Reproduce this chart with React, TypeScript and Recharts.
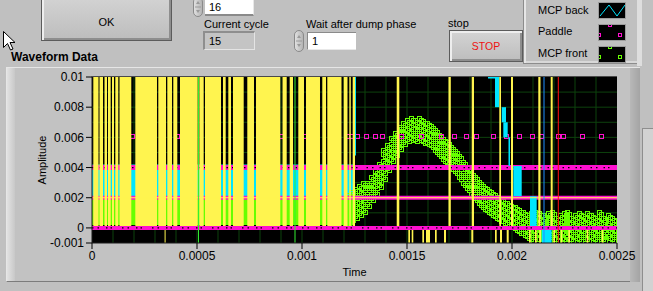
import React from 'react';
import { ComposedChart, XAxis, YAxis, CartesianGrid, ReferenceArea, ReferenceLine, Scatter } from 'recharts';

// ---------------- axes ----------------
const timeTicks = [0, 0.0005, 0.001, 0.0015, 0.002, 0.0025];
const ampTicks = [-0.001, 0, 0.002, 0.004, 0.006, 0.008, 0.01];
const gridTimes = [0.0001, 0.0002, 0.0003, 0.0004, 0.0005, 0.0006, 0.0007, 0.0008, 0.0009, 0.001, 0.0011, 0.0012, 0.0013, 0.0014, 0.0015, 0.0016, 0.0017, 0.0018, 0.0019, 0.002, 0.0021, 0.0022, 0.0023, 0.0024];
const gridAmps = [0, 0.001, 0.002, 0.003, 0.004, 0.005, 0.006, 0.007, 0.008, 0.009];

// ---------------- yellow trace (dense burst, full height) ----------------
const yellowDenseStart = [0.0000062, 0.0000357, 0.0000595, 0.0000762, 0.0000952, 0.000111, 0.000131, 0.0002062, 0.0003157, 0.0003586, 0.0003871, 0.000419, 0.000511, 0.0005381, 0.0006238, 0.0006491, 0.0006714, 0.0007395, 0.000781, 0.0009072, 0.0009414, 0.0009824, 0.0010191, 0.0010967, 0.0011205, 0.0011986, 0.0012253, 0.0012414];
const yellowDenseEnd = [0.000031, 0.0000524, 0.0000714, 0.000089, 0.0001048, 0.0001252, 0.0001871, 0.0003095, 0.0003524, 0.000381, 0.0004062, 0.0005033, 0.0005319, 0.0006143, 0.0006367, 0.0006619, 0.0007224, 0.0007714, 0.0008967, 0.0009272, 0.0009572, 0.0010095, 0.0010857, 0.0011143, 0.0011881, 0.0012167, 0.0012324, 0.0012524];
const yellowHigh = 0.01;
const yellowLow = 0.0001;
// isolated full-height yellow spikes
const yellowSpikeStart = [0.001451, 0.0016976, 0.0018081, 0.0019395, 0.0019952, 0.0021252, 0.0021843];
const yellowSpikeEnd = [0.0014633, 0.0017086, 0.001819, 0.0019476, 0.0020048, 0.0021357, 0.0021938];
// negative yellow spikes (0 .. -0.001)
const yellowNegStart = [0.0003457, 0.0015062, 0.0015224, 0.0015729, 0.0015905, 0.0016333, 0.0016762, 0.0018062, 0.001919, 0.0019429, 0.0019748, 0.002081, 0.0021095, 0.00213, 0.0021967, 0.0022319, 0.0022681, 0.0023557, 0.0024271];
const yellowNegEnd = [0.0003505, 0.0015143, 0.00153, 0.001581, 0.0016095, 0.0016414, 0.0016857, 0.0018157, 0.0019272, 0.0019524, 0.0019843, 0.002089, 0.0021176, 0.0021381, 0.0022048, 0.0022395, 0.0022762, 0.0023633, 0.0024348];
const yellowNegTop = -0.0001;
const yellowNegBottom = -0.001;
const yellowFlatLevel = 0.002;

// ---------------- MCP back (cyan) ----------------
const backDenseRange = [0, 0.00125, 0.002, 0.0042]; // t1, t2, v1, v2
const backX1 = [0.0018857, 0.001919, 0.001951, 0.0019586, 0.0019833, 0.0020062, 0.0020857, 0.0021414, 0.0012524];
const backX2 = [0.0019395, 0.0019395, 0.0019714, 0.0019795, 0.0019905, 0.0020462, 0.0021176, 0.002189, 0.0012571];
const backY1 = [0.0099, 0.008, 0.007, 0.006, 0.0041, 0.0021, 0, -0.001, 0.0048];
const backY2 = [0.01, 0.01, 0.008, 0.007, 0.006, 0.0041, 0.0021, 0, 0.01];

// ---------------- Paddle (magenta) ----------------
const paddleLevels = [0.002, 0.004];
const paddleBaseLevel = 0;
const paddleSquareLevel = 0.006;
const paddleSquareTime = [0.0001952, 0.0004095, 0.0009048, 0.0010143, 0.001219, 0.0012381, 0.0012681, 0.0013081, 0.001351, 0.0013871, 0.0014748, 0.00157, 0.0016652, 0.0017286, 0.0017871, 0.0018348, 0.0019143, 0.0019776, 0.0020381, 0.0021014, 0.0021443, 0.0022252, 0.0022476, 0.0023395, 0.00243];

// ---------------- MCP front (green) ----------------
const frontDenseRange = [0, 0.00125, 0.0002, 0.002];
const frontSpikeTime = [0.0005071, 0.0009667];
const frontTime = [0.001182, 0.001201, 0.00122, 0.001239, 0.001258, 0.001277, 0.001297, 0.001316, 0.001335, 0.001354, 0.001373, 0.001392, 0.001411, 0.00143, 0.001449, 0.001468, 0.001487, 0.001506, 0.001525, 0.001544, 0.001563, 0.001582, 0.001602, 0.001621, 0.00164, 0.001659, 0.001678, 0.001697, 0.001716, 0.001735, 0.001754, 0.001773, 0.001792, 0.001811, 0.00183, 0.001849, 0.001868, 0.001888, 0.001907, 0.001926, 0.001945, 0.001964, 0.001983, 0.002002, 0.002021, 0.00204, 0.002059, 0.002078, 0.002097, 0.002116, 0.002135, 0.002154, 0.002174, 0.002193, 0.002212, 0.002231, 0.00225, 0.002269, 0.002288, 0.002307, 0.002326, 0.002345, 0.002364, 0.002383, 0.002402, 0.002421, 0.00244, 0.00246, 0.002479, 0.002498];
const frontAmp = [
  [0.0003, 0.0007, 0.001, 0.0014, 0.0017], [0.0005, 0.0009, 0.0012, 0.0016, 0.0019], [0.0004, 0.0008, 0.0011, 0.0015, 0.0018, 0.0021], [0.0006, 0.001, 0.0013, 0.0017, 0.002, 0.0023],
  [0.0007, 0.0011, 0.0014, 0.0018, 0.0021, 0.0025], [0.0009, 0.0013, 0.0016, 0.002, 0.0024, 0.0027], [0.0011, 0.0015, 0.0019, 0.0022, 0.0026, 0.0029], [0.0015, 0.0019, 0.0022, 0.0026, 0.0029],
  [0.0019, 0.0022, 0.0026, 0.0029, 0.0033], [0.0023, 0.0027, 0.003, 0.0034, 0.0037], [0.0028, 0.0031, 0.0035, 0.0038, 0.0042], [0.0033, 0.0037, 0.004, 0.0044, 0.0048, 0.0051],
  [0.0039, 0.0043, 0.0046, 0.005, 0.0054], [0.0045, 0.0048, 0.0052, 0.0055, 0.0059], [0.0049, 0.0052, 0.0056, 0.0059, 0.0062], [0.0053, 0.0056, 0.0059, 0.0063, 0.0066],
  [0.0056, 0.0059, 0.0063, 0.0066, 0.0069], [0.0058, 0.0061, 0.0064, 0.0068, 0.0071], [0.0059, 0.0062, 0.0066, 0.0069, 0.0072], [0.0058, 0.0062, 0.0065, 0.0068, 0.0071],
  [0.0059, 0.0062, 0.0065, 0.0069, 0.0072], [0.0057, 0.006, 0.0064, 0.0067, 0.007], [0.0056, 0.0059, 0.0062, 0.0066, 0.0069], [0.0054, 0.0057, 0.0061, 0.0064, 0.0067],
  [0.0051, 0.0054, 0.0058, 0.0061, 0.0064], [0.0048, 0.0051, 0.0055, 0.0058, 0.0061], [0.0045, 0.0048, 0.0052, 0.0055, 0.0058], [0.0043, 0.0046, 0.0049, 0.0053, 0.0056],
  [0.004, 0.0043, 0.0047, 0.005, 0.0053], [0.0037, 0.004, 0.0044, 0.0047, 0.005], [0.0033, 0.0036, 0.004, 0.0043, 0.0047], [0.0029, 0.0033, 0.0036, 0.004, 0.0043],
  [0.0026, 0.0029, 0.0033, 0.0036, 0.0039], [0.0022, 0.0026, 0.0029, 0.0033, 0.0036], [0.0019, 0.0022, 0.0026, 0.0029, 0.0033], [0.0016, 0.0019, 0.0023, 0.0026, 0.003],
  [0.0013, 0.0017, 0.002, 0.0024, 0.0027], [0.0011, 0.0015, 0.0018, 0.0022, 0.0025], [0.0009, 0.0013, 0.0016, 0.002, 0.0023], [0.0007, 0.0011, 0.0014, 0.0018, 0.0021],
  [0.0005, 0.0009, 0.0012, 0.0016, 0.0019], [0.0004, 0.0007, 0.0011, 0.0014, 0.0017], [0.0002, 0.0006, 0.0009, 0.0013, 0.0016], [0.0001, 0.0004, 0.0008, 0.0011, 0.0014],
  [-0.0001, 0.0003, 0.0006, 0.001, 0.0013], [-0.0003, 0.0001, 0.0004, 0.0008, 0.0011], [-0.0004, 0, 0.0003, 0.0007, 0.001], [-0.0006, -0.0002, 0.0001, 0.0005, 0.0008],
  [-0.0008, -0.0004, -0.0001, 0.0003, 0.0006, 0.0009], [-0.0007, -0.0003, 0, 0.0004, 0.0007, 0.001], [-0.0008, -0.0005, -0.0001, 0.0002, 0.0006, 0.0009], [-0.0006, -0.0003, 0.0001, 0.0004, 0.0008],
  [-0.0008, -0.0004, -0.0001, 0.0003, 0.0006, 0.0009], [-0.0007, -0.0003, 0, 0.0004, 0.0007, 0.001], [-0.0008, -0.0005, -0.0001, 0.0002, 0.0006], [-0.0006, -0.0002, 0.0001, 0.0005, 0.0008],
  [-0.0008, -0.0004, -0.0001, 0.0003, 0.0006, 0.0009], [-0.0007, -0.0003, 0, 0.0004, 0.0007, 0.001], [-0.0008, -0.0005, -0.0001, 0.0002, 0.0006], [-0.0006, -0.0002, 0.0001, 0.0005, 0.0008],
  [-0.0008, -0.0004, -0.0001, 0.0003, 0.0006, 0.0009], [-0.0007, -0.0003, 0, 0.0004, 0.0007], [-0.0008, -0.0005, -0.0001, 0.0002, 0.0006, 0.0009], [-0.0006, -0.0002, 0.0001, 0.0005, 0.0008],
  [-0.0008, -0.0004, -0.0001, 0.0003, 0.0006], [-0.0007, -0.0003, 0, 0.0004, 0.0007, 0.001], [-0.0008, -0.0005, -0.0001, 0.0002, 0.0006], [-0.0006, -0.0002, 0.0001, 0.0005, 0.0008],
  [-0.0008, -0.0004, -0.0001, 0.0003, 0.0006], [-0.0007, -0.0003, 0, 0.0004],
];

// ---------------- cursors ----------------
const cursorBlue = 0.0021524;
const cursorRed = 0.0022205;

// ---------------- controls ----------------
const cyclesValue = '16';
const currentCycleValue = '15';
const waitValue = '1';
const legendNames = ['MCP back', 'Paddle', 'MCP front'];

const YEL = '#fff44f';
const CYA = '#00e6ff';
const MAG = '#ff10d0';
const LIM = '#66ff00';
const FONT = '"Liberation Sans", Arial, Helvetica, sans-serif';

const frontPoints = frontTime.flatMap((t, i) => frontAmp[i].map((v) => ({ t, v })));
const paddlePoints = paddleSquareTime.map((t) => ({ t, v: paddleSquareLevel }));

// single hollow square marker
const hollowSquare = (color: string) => (props: any) => {
  const { cx, cy } = props;
  if (cx == null || cy == null || isNaN(cx) || isNaN(cy)) return <g />;
  return (
    <rect x={Math.round(cx) - 2.5} y={Math.round(cy) - 2.5} width={4} height={4} fill="none" stroke={color} strokeWidth={1} shapeRendering="crispEdges" />
  );
};
// clustered hollow-square marker (overlapping squares, like a dense point cloud)
const clusterSquare = (color: string) => (props: any) => {
  const { cx, cy } = props;
  if (cx == null || cy == null || isNaN(cx) || isNaN(cy)) return <g />;
  const x = Math.round(cx);
  const y = Math.round(cy);
  return (
    <g fill="none" stroke={color} strokeWidth={1} shapeRendering="crispEdges">
      <rect x={x - 2.5} y={y - 2.5} width={4} height={4} />
      <rect x={x - 0.5} y={y - 0.5} width={4} height={4} />
    </g>
  );
};

const raisedButton: React.CSSProperties = {
  position: 'absolute',
  boxSizing: 'border-box',
  border: '1px solid #5c5c5c',
  background: 'linear-gradient(#d4d4d4, #bdbdbd)',
  boxShadow: 'inset 2px 2px 0 #eeeeee, inset -2px -2px 0 #8e8e8e',
  display: 'flex',
  alignItems: 'center',
  justifyContent: 'center',
  fontSize: 11,
};

function Spin({ left, top, height }: { left: number; top: number; height: number }) {
  return (
    <div style={{ position: 'absolute', left, top, width: 10, height, boxSizing: 'border-box', borderRadius: 5, border: '1px solid #8a8a8a', background: 'linear-gradient(to right, #e0e0e0, #b4b4b4)' }}>
      <svg width={8} height={height - 2} style={{ position: 'absolute', left: 0, top: 0 }}>
        <path d={`M2,${height / 2 - 4} L4,${height / 2 - 7} L6,${height / 2 - 4} Z`} fill="#9a9a9a" />
        <path d={`M2,${height / 2 + 2} L4,${height / 2 + 5} L6,${height / 2 + 2} Z`} fill="#9a9a9a" />
        <line x1={1} x2={7} y1={height / 2 - 1} y2={height / 2 - 1} stroke="#9a9a9a" strokeWidth={1} />
      </svg>
    </div>
  );
}

function Swatch({ top, kind }: { top: number; kind: number }) {
  return (
    <div style={{ position: 'absolute', left: 598, top, width: 28, height: 17, boxSizing: 'border-box', border: '1px solid #9c9c9c', background: '#000', overflow: 'hidden' }}>
      <svg width={26} height={15} style={{ position: 'absolute', left: 0, top: 0 }}>
        {kind === 0 ? (
          <polyline points="1,13 10,2 18,13 26,2" fill="none" stroke={CYA} strokeWidth={1} />
        ) : (
          <g fill="none" stroke={kind === 1 ? MAG : LIM} strokeWidth={1} shapeRendering="crispEdges">
            <rect x={9.5} y={-1.5} width={3} height={3} />
            <rect x={-1.5} y={8.5} width={3} height={3} />
            <rect x={19.5} y={8.5} width={3} height={3} />
          </g>
        )}
      </svg>
    </div>
  );
}

export default function App() {
  return (
    <div style={{ position: 'fixed', left: 0, top: 0, width: 653, height: 291, background: '#c0c0c0', overflow: 'hidden', fontFamily: FONT, color: '#000' }}>
      {/* OK button */}
      <div style={{ ...raisedButton, left: 41, top: -6, width: 131, height: 47, paddingTop: 8 }}>OK</div>

      {/* cycles control */}
      <Spin left={193} top={-3} height={20} />
      <div style={{ position: 'absolute', left: 205, top: -2, width: 49, height: 18, boxSizing: 'border-box', background: '#fff', borderRight: '1px solid #e8e8e8', borderBottom: '2px solid #8a8a8a', fontSize: 11, lineHeight: '13px', paddingLeft: 4, paddingTop: 3 }}>{cyclesValue}</div>

      <div style={{ position: 'absolute', left: 204, top: 17.5, fontSize: 11, lineHeight: '13px', whiteSpace: 'nowrap' }}>Current cycle</div>
      <div style={{ position: 'absolute', left: 203, top: 31, width: 52, height: 19, boxSizing: 'border-box', background: '#c4c4c4', borderTop: '2px solid #8e8e8e', borderLeft: '2px solid #8e8e8e', borderRight: '1px solid #e4e4e4', borderBottom: '1px solid #e4e4e4', fontSize: 11, lineHeight: '13px', paddingLeft: 4, paddingTop: 2 }}>{currentCycleValue}</div>

      <div style={{ position: 'absolute', left: 306, top: 17.5, fontSize: 11, lineHeight: '13px', whiteSpace: 'nowrap' }}>Wait after dump phase</div>
      <Spin left={294} top={30} height={22} />
      <div style={{ position: 'absolute', left: 307, top: 32, width: 49, height: 18, boxSizing: 'border-box', background: '#fff', borderTop: '1px solid #8a8a8a', borderLeft: '1px solid #8a8a8a', borderBottom: '1px solid #e8e8e8', fontSize: 11, lineHeight: '13px', paddingLeft: 4, paddingTop: 2 }}>{waitValue}</div>

      <div style={{ position: 'absolute', left: 448, top: 17, fontSize: 11, lineHeight: '13px' }}>stop</div>
      <div style={{ ...raisedButton, left: 449, top: 30, width: 74, height: 32, color: '#ee1111', fontSize: 10.5 }}>STOP</div>

      {/* legend panel */}
      <div style={{ position: 'absolute', left: 523, top: -3, width: 117, height: 67, boxSizing: 'border-box', background: '#c0c0c0', borderLeft: '1px solid #8c8c8c', borderBottom: '1px solid #8c8c8c', boxShadow: 'inset 2px 0 0 #e6e6e6, inset 0 -2px 0 #d8d8d8' }} />
      <div style={{ position: 'absolute', left: 637, top: 0, width: 5, height: 66, background: '#dedede' }} />
      {legendNames.map((n, i) => (
        <div key={n} style={{ position: 'absolute', left: 538, top: 3.5 + i * 21.8, fontSize: 11, lineHeight: '13px', whiteSpace: 'nowrap' }}>{n}</div>
      ))}
      <Swatch top={2} kind={0} />
      <Swatch top={24} kind={1} />
      <Swatch top={46} kind={2} />

      {/* mouse cursor */}
      <svg width={14} height={22} style={{ position: 'absolute', left: 3, top: 31 }}>
        <path d="M0.5,0.5 L0.5,16.5 L4.5,12.5 L7.5,19 L10,18 L7,11.5 L12,11.5 Z" fill="#fff" stroke="#000" strokeWidth={1} />
      </svg>

      {/* graph frame */}
      <div style={{ position: 'absolute', left: 6, top: 67, width: 634, height: 215, boxSizing: 'border-box', background: '#c2c2c2', borderTop: '1px solid #e6e6e6', borderLeft: '1px solid #e6e6e6', borderBottom: '1px solid #7c7c7c' }} />
      <div style={{ position: 'absolute', left: 7, top: 68, width: 8, height: 213, background: 'linear-gradient(to right, #e2e2e2, #c8c8c8)' }} />
      <div style={{ position: 'absolute', left: 630, top: 68, width: 10, height: 214, background: 'linear-gradient(to right, #b8b8b8, #a4a4a4)' }} />
      <div style={{ position: 'absolute', left: 642, top: 128, width: 11, height: 163, boxSizing: 'border-box', background: '#d2d2d2', borderLeft: '1px solid #8e8e8e', borderTop: '1px solid #8e8e8e' }} />

      <div style={{ position: 'absolute', left: 11, top: 50, fontSize: 12, fontWeight: 'bold', lineHeight: '14px', whiteSpace: 'nowrap' }}>Waveform Data</div>

      <div style={{ position: 'absolute', left: 0, top: 0, width: 653, height: 291 }}>
        <ComposedChart width={653} height={291} margin={{ top: 77, right: 36, bottom: 10, left: 32 }}>
          <CartesianGrid
            fill="#000"
            fillOpacity={1}
            stroke="#0d420d"
            strokeWidth={1}
            verticalValues={gridTimes}
            horizontalValues={gridAmps}
          />
          <XAxis
            type="number"
            dataKey="t"
            domain={[0, 0.0025]}
            allowDataOverflow
            ticks={timeTicks}
            interval={0}
            height={38}
            tickSize={6}
            tickMargin={2}
            axisLine={{ stroke: '#1a1a1a' }}
            tickLine={{ stroke: '#000' }}
            tick={{ fill: '#000', fontSize: 12, fontFamily: FONT }}
            label={{ value: 'Time', position: 'insideBottom', offset: 5, fill: '#000', fontSize: 11, fontFamily: FONT }}
          />
          <YAxis
            type="number"
            dataKey="v"
            domain={[-0.001, 0.01]}
            allowDataOverflow
            ticks={ampTicks}
            interval={0}
            width={60}
            tickSize={6}
            tickMargin={2}
            axisLine={{ stroke: '#1a1a1a' }}
            tickLine={{ stroke: '#000' }}
            tick={{ fill: '#000', fontSize: 12, fontFamily: FONT }}
          />

          {/* hidden traces inside the burst */}
          <ReferenceArea zIndex={10} x1={frontDenseRange[0]} x2={frontDenseRange[1]} y1={frontDenseRange[2]} y2={frontDenseRange[3]} fill={LIM} fillOpacity={1} stroke="none" />
          <ReferenceArea zIndex={11} x1={backDenseRange[0]} x2={backDenseRange[1]} y1={backDenseRange[2]} y2={backDenseRange[3]} fill={CYA} fillOpacity={1} stroke="none" />

          {/* MCP front squares */}
          <Scatter zIndex={20} data={frontPoints} isAnimationActive={false} shape={clusterSquare(LIM)} />

          {/* Paddle */}
          {paddleLevels.map((lv) => (
            <ReferenceLine key={'pl' + lv} zIndex={30} y={lv} stroke={MAG} strokeWidth={lv === 0.004 ? 5 : 4} />
          ))}
          <ReferenceLine zIndex={31} y={paddleLevels[1]} stroke="#000" strokeWidth={1.2} strokeDasharray="1.5 6 1.5 3 1.5 9 1.5 4" />
          <Scatter zIndex={32} data={paddlePoints} isAnimationActive={false} shape={hollowSquare(MAG)} />

          {/* MCP back blocks */}
          {backX1.map((x1, i) => (
            <ReferenceArea key={'b' + i} zIndex={40} x1={x1} x2={backX2[i]} y1={backY1[i]} y2={backY2[i]} fill={CYA} fillOpacity={1} stroke="none" />
          ))}

          {/* yellow trace */}
          {yellowDenseStart.map((s, i) => (
            <ReferenceArea key={'yd' + i} zIndex={50} x1={s} x2={yellowDenseEnd[i]} y1={yellowLow} y2={yellowHigh} fill={YEL} fillOpacity={1} stroke="none" />
          ))}
          {yellowSpikeStart.map((s, i) => (
            <ReferenceArea key={'ys' + i} zIndex={50} x1={s} x2={yellowSpikeEnd[i]} y1={yellowLow} y2={yellowHigh} fill={YEL} fillOpacity={1} stroke="none" />
          ))}
          {yellowNegStart.map((s, i) => (
            <ReferenceArea key={'yn' + i} zIndex={50} x1={s} x2={yellowNegEnd[i]} y1={yellowNegBottom} y2={yellowNegTop} fill={YEL} fillOpacity={1} stroke="none" />
          ))}
          <ReferenceLine zIndex={51} y={yellowFlatLevel} stroke={YEL} strokeWidth={1} />

          {/* Paddle baseline */}
          <ReferenceLine zIndex={60} y={paddleBaseLevel} stroke={MAG} strokeWidth={4} />
          <ReferenceLine zIndex={61} y={paddleBaseLevel} stroke="#000" strokeWidth={1.2} strokeDasharray="1.5 4 1.5 7 1.5 3 1.5 10" />

          {/* MCP front spikes + cursors */}
          {frontSpikeTime.map((t) => (
            <ReferenceLine key={'fs' + t} zIndex={70} x={t} stroke="#33ee33" strokeWidth={1} />
          ))}
          <ReferenceLine zIndex={71} x={cursorBlue} stroke="#1e90ff" strokeWidth={1} />
          <ReferenceLine zIndex={71} x={cursorRed} stroke="#ff1010" strokeWidth={1} />
        </ComposedChart>
      </div>

      {/* plot top edge */}
      <div style={{ position: 'absolute', left: 91, top: 76, width: 526, height: 1, background: '#4a4a4a' }} />

      <div style={{ position: 'absolute', left: 42, top: 160, transform: 'translate(-50%, -50%) rotate(-90deg)', fontSize: 11, lineHeight: '13px', whiteSpace: 'nowrap' }}>Amplitude</div>
    </div>
  );
}
